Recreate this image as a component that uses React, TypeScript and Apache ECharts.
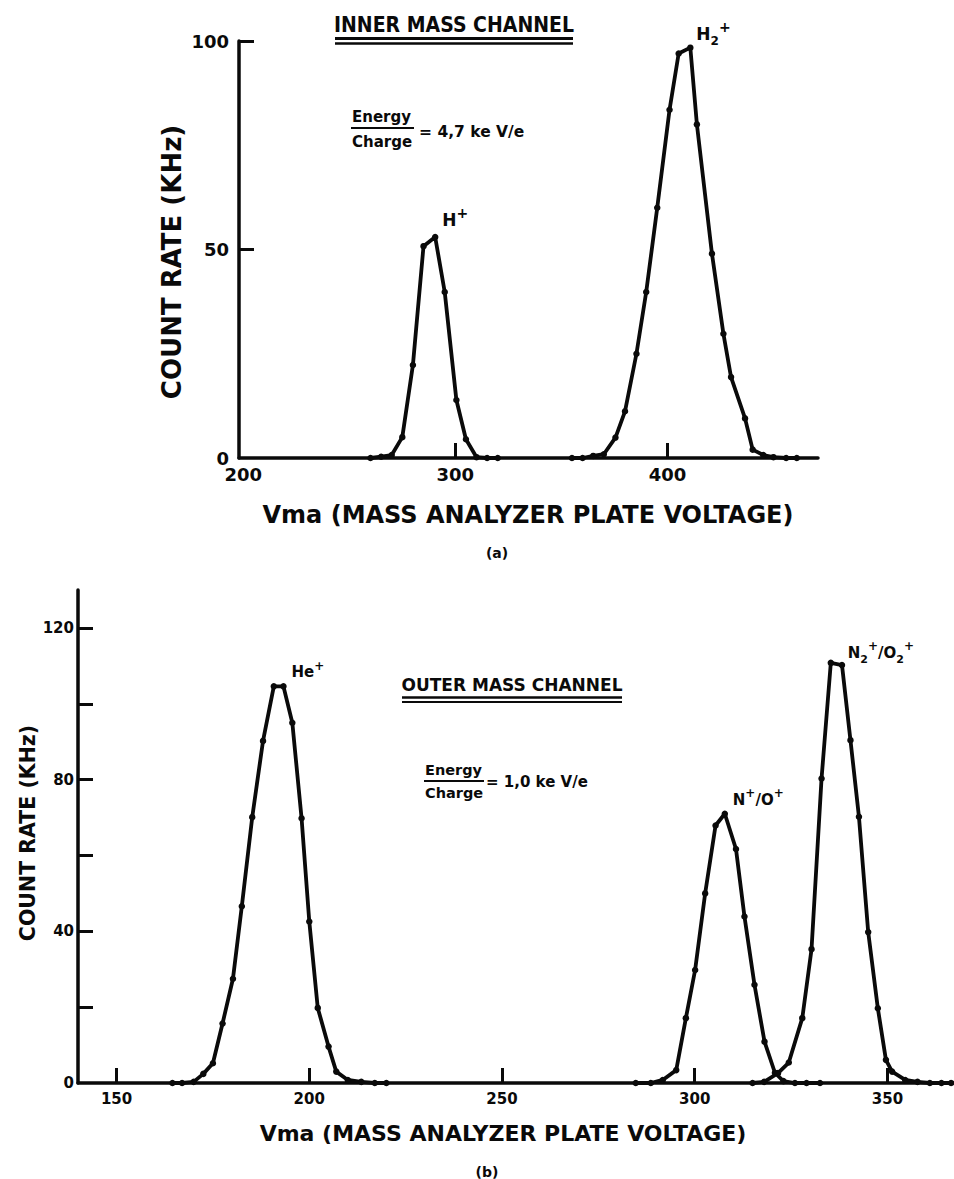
import React, { useEffect, useRef } from "react";
import * as echarts from "echarts";

// ---- (a) Inner mass channel, Energy/Charge = 4,7 keV/e ----
const hPlusVolt = [260, 265, 270, 275, 280, 285, 290.5, 295, 300.5, 305, 310, 315, 320];
const hPlusRate = [0, 0.3, 0.7, 5, 22.3, 50.8, 53, 39.8, 13.9, 4.5, 0.2, 0, 0];
const h2PlusVolt = [355, 360, 365, 370, 375.5, 380, 385.4, 390, 395.2, 401, 405.3, 410.8, 413.9, 421, 426.4, 430, 436.6, 440.2, 445.2, 450, 456, 461];
const h2PlusRate = [0, 0, 0.5, 0.9, 4.9, 11.2, 25, 39.8, 60, 83.5, 97, 98.4, 80, 49, 29.8, 19.4, 9.5, 2, 0.7, 0.2, 0, 0];

// ---- (b) Outer mass channel, Energy/Charge = 1,0 keV/e ----
const hePlusVolt = [164.5, 167, 170, 172.5, 175, 177.5, 180.2, 182.5, 185.2, 188, 190.8, 193.3, 195.6, 198, 200, 202.2, 205, 207, 210, 213.5, 217, 220];
const hePlusRate = [0, 0, 0.3, 2.4, 5.2, 15.7, 27.5, 46.6, 70.1, 90.2, 104.6, 104.6, 95, 69.8, 42.6, 19.8, 9.6, 3, 0.8, 0.3, 0, 0];
const nPlusVolt = [284.7, 288.6, 291.7, 295.2, 297.7, 300.1, 302.7, 305.4, 307.8, 310.7, 312.9, 315.5, 318.1, 320.8, 323, 326, 329, 332.5];
const nPlusRate = [0, 0, 0.8, 3.4, 17.1, 29.8, 50, 67.9, 71, 61.7, 43.9, 25.9, 10.9, 2.7, 0.5, 0, 0, 0];
const n2PlusVolt = [315, 318, 321.6, 324.4, 327.9, 330.3, 332.9, 335.3, 338.2, 340.4, 342.6, 345, 347.5, 349.6, 351.2, 354.6, 357.8, 361, 364, 366.5];
const n2PlusRate = [0, 0.3, 2.6, 5.4, 17.1, 35.3, 80.3, 110.8, 110.2, 90.4, 70.2, 39.8, 19.7, 6.1, 3, 0.8, 0.3, 0, 0, 0];

// ---- axes ----
const topXTicks = [300, 400];
const topXLabels = [200, 300, 400];
const topYTicks = [50, 100];
const topYLabels = [0, 50, 100];
const botXTicks = [150, 200, 250, 300, 350];
const botXLabels = [150, 200, 250, 300, 350];
const botYTicks = [20, 40, 60, 80, 100, 120];
const botYLabels = [0, 40, 80, 120];

const xAxisTitle = "Vma (MASS ANALYZER PLATE VOLTAGE)";
const yAxisTitle = "COUNT RATE (KHz)";

const W = 954;
const H = 1179;
const FONT = "DejaVu Sans";
const INK = "#0a0a0a";

function pairs(xs: number[], ys: number[]) {
  return xs.map((x, i) => [x, ys[i]]);
}

export default function App() {
  const ref = useRef<HTMLDivElement>(null);

  useEffect(() => {
    document.body.style.margin = "0";
    const chart = echarts.init(ref.current!, null, { renderer: "svg", width: W, height: H });

    const lineSeries = (name: string, xs: number[], ys: number[], idx: number) => ({
      name,
      type: "line",
      xAxisIndex: idx,
      yAxisIndex: idx,
      data: pairs(xs, ys),
      symbol: "circle",
      symbolSize: 6.5,
      showAllSymbol: true,
      lineStyle: { color: INK, width: 3.8, join: "round", cap: "round" },
      itemStyle: { color: INK },
      z: 3,
    });

    const axisCfg = (idx: number, min: number, max: number, ticks: number[], labels: number[], fs: number, margin: number) => ({
      type: "value",
      gridIndex: idx,
      min,
      max,
      splitLine: { show: false },
      axisLine: { show: true, onZero: false, lineStyle: { color: INK, width: 3.5 } },
      axisTick: { show: true, inside: true, length: 15, customValues: ticks, lineStyle: { color: INK, width: 3 } },
      axisLabel: { show: true, customValues: labels, margin, color: INK, fontFamily: FONT, fontWeight: "bold", fontSize: fs },
    });

    chart.setOption({
      animation: false,
      backgroundColor: "#ffffff",
      grid: [
        { left: 239, top: 41, width: 579, height: 417 },
        { left: 78, top: 590, width: 875, height: 493 },
      ],
      xAxis: [
        axisCfg(0, 198, 471, topXTicks, topXLabels, 18, 7),
        axisCfg(1, 140, 367, botXTicks, botXLabels, 15, 8),
      ],
      yAxis: [
        axisCfg(0, 0, 100, topYTicks, topYLabels, 18, 10),
        axisCfg(1, 0, 130, botYTicks, botYLabels, 15, 4),
      ],
      series: [
        lineSeries("H+", hPlusVolt, hPlusRate, 0),
        lineSeries("H2+", h2PlusVolt, h2PlusRate, 0),
        lineSeries("He+", hePlusVolt, hePlusRate, 1),
        lineSeries("N+/O+", nPlusVolt, nPlusRate, 1),
        lineSeries("N2+/O2+", n2PlusVolt, n2PlusRate, 1),
      ],
    });

    const peak = (xs: number[], ys: number[], idx: number) => {
      let k = 0;
      ys.forEach((v, i) => {
        if (v >= ys[k]) k = i;
      });
      return chart.convertToPixel({ xAxisIndex: idx, yAxisIndex: idx }, [xs[k], ys[k]]) as number[];
    };

    const richStyles = (fs: number) => ({
      b: { fontSize: fs, fontWeight: "bold", fontFamily: FONT, fill: INK, lineHeight: fs + 10, verticalAlign: "middle" },
      sup: { fontSize: Math.round(fs * 0.8), fontWeight: "bold", fontFamily: FONT, fill: INK, lineHeight: fs + 10, verticalAlign: "top" },
      sub: { fontSize: Math.round(fs * 0.7), fontWeight: "bold", fontFamily: FONT, fill: INK, lineHeight: fs + 10, verticalAlign: "bottom" },
    });

    const peakLabel = (text: string, p: number[], dx: number, dy: number, fs: number) => ({
      type: "text",
      x: p[0] + dx,
      y: p[1] + dy,
      z: 10,
      style: { text, align: "left", verticalAlign: "middle", rich: richStyles(fs), fill: INK },
    });

    const txt = (text: string, x: number, y: number, fs: number, opts: any = {}) => ({
      type: "text",
      x,
      y,
      rotation: opts.rotation || 0,
      scaleX: opts.scaleX || 1,
      z: 10,
      style: {
        text,
        align: opts.align || "center",
        verticalAlign: "middle",
        fontFamily: FONT,
        fontWeight: "bold",
        fontSize: fs,
        fill: INK,
      },
    });
    const hline = (x1: number, x2: number, y: number, w: number) => ({
      type: "line",
      z: 10,
      shape: { x1, y1: y, x2, y2: y },
      style: { stroke: INK, lineWidth: w },
    });

    const pH = peak(hPlusVolt, hPlusRate, 0);
    const pH2 = peak(h2PlusVolt, h2PlusRate, 0);
    const pHe = peak(hePlusVolt, hePlusRate, 1);
    const pN = peak(nPlusVolt, nPlusRate, 1);
    const pN2 = peak(n2PlusVolt, n2PlusRate, 1);

    chart.setOption({
      graphic: [
        // panel (a)
        txt("INNER MASS CHANNEL", 454, 24, 22, { scaleX: 0.86 }),
        hline(335, 573, 38.5, 3),
        hline(335, 573, 43.5, 2.5),
        txt("Energy", 352, 117, 15, { align: "left" }),
        hline(351, 414, 128, 2),
        txt("Charge", 352, 142, 15, { align: "left" }),
        txt("= 4,7 ke V/e", 419, 132, 15.5, { align: "left" }),
        peakLabel("{b|H}{sup|+}", pH, 7, -17, 17),
        peakLabel("{b|H}{sub|2}{sup|+}", pH2, 6, -14, 17),
        txt(yAxisTitle, 172, 262, 26, { rotation: Math.PI / 2 }),
        txt(xAxisTitle, 528, 515, 24),
        txt("(a)", 497, 553, 14),
        // panel (b)
        txt("OUTER MASS CHANNEL", 512, 685, 18.5, { scaleX: 0.92 }),
        hline(402, 622, 697.5, 2.5),
        hline(402, 622, 702, 2),
        txt("Energy", 425, 770, 14.5, { align: "left" }),
        hline(424, 484, 781, 2),
        txt("Charge", 425, 793, 14.5, { align: "left" }),
        txt("= 1,0 ke V/e", 486, 782, 15, { align: "left" }),
        peakLabel("{b|He}{sup|+}", pHe, 8, -14, 15),
        peakLabel("{b|N}{sup|+}{b|/O}{sup|+}", pN, 8, -14, 15),
        peakLabel("{b|N}{sub|2}{sup|+}{b|/O}{sub|2}{sup|+}", pN2, 17, -10, 15),
        txt(yAxisTitle, 28, 833, 20.5, { rotation: Math.PI / 2 }),
        txt(xAxisTitle, 503, 1133, 22),
        txt("(b)", 487, 1172, 14),
      ],
    });

    return () => chart.dispose();
  }, []);

  return (
    <div
      ref={ref}
      style={{ position: "absolute", left: 0, top: 0, width: W, height: H, background: "#ffffff" }}
    />
  );
}
